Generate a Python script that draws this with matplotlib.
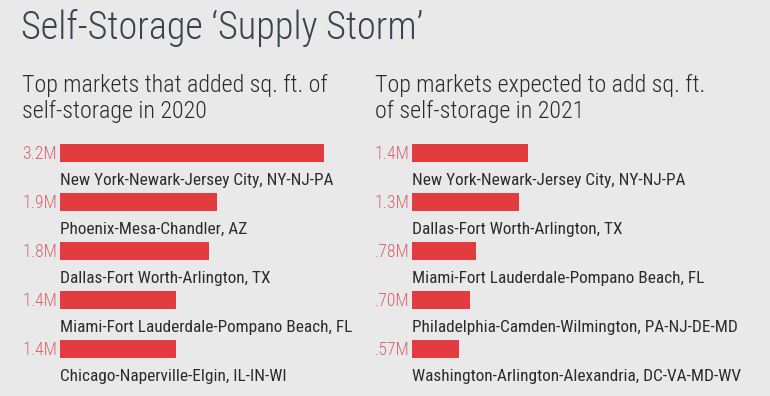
import matplotlib
matplotlib.use("Agg")
import matplotlib.pyplot as plt

# data
cities_2020 = ["New York-Newark-Jersey City, NY-NJ-PA",
               "Phoenix-Mesa-Chandler, AZ",
               "Dallas-Fort Worth-Arlington, TX",
               "Miami-Fort Lauderdale-Pompano Beach, FL",
               "Chicago-Naperville-Elgin, IL-IN-WI"]
values_2020 = [3.2, 1.9, 1.8, 1.4, 1.4]
labels_2020 = ["3.2M", "1.9M", "1.8M", "1.4M", "1.4M"]

cities_2021 = ["New York-Newark-Jersey City, NY-NJ-PA",
               "Dallas-Fort Worth-Arlington, TX",
               "Miami-Fort Lauderdale-Pompano Beach, FL",
               "Philadelphia-Camden-Wilmington, PA-NJ-DE-MD",
               "Washington-Arlington-Alexandria, DC-VA-MD-WV"]
values_2021 = [1.4, 1.3, 0.78, 0.70, 0.57]
labels_2021 = ["1.4M", "1.3M", ".78M", ".70M", ".57M"]

plt.rcParams["font.family"] = ["Roboto Condensed", "DejaVu Sans"]

BG = "#e9e9e9"
RED = "#e23c40"
VAL = "#d8646a"
TXT = "#2b2b2b"

W, H = 770, 396
fig = plt.figure(figsize=(W / 100, H / 100), dpi=100, facecolor=BG)

fig.text(21 / W, 1 - 39 / H, "Self-Storage \u2018Supply Storm\u2019", fontsize=27.5,
         color="#3b4250", va="baseline", ha="left", fontweight="light")

def panel(x0, tx, subtitle, cities, values, labels):
    for k, line in enumerate(subtitle):
        fig.text(tx / W, 1 - (92 + 26 * k) / H, line, fontsize=17.3, color=TXT,
                 va="baseline", ha="left", fontweight="light")
    # axes: pixel 130..380 vertically, 300 px wide
    ax = fig.add_axes([x0 / W, 1 - 380 / H, 300 / W, 250 / H])
    ax.set_facecolor("none")
    ax.set_xlim(0, 300 / 82.5)
    ax.set_ylim(4.633, -0.469)
    ax.axis("off")
    y = list(range(len(values)))
    ax.barh(y, values, height=0.37, color=RED)
    for i, (c, lab) in enumerate(zip(cities, labels)):
        ax.text(-0.035, i + 0.13, lab, ha="right", va="baseline", fontsize=12.8,
                color=VAL, clip_on=False, fontweight="light")
        ax.text(0, i + 0.653, c, ha="left", va="baseline", fontsize=12.4,
                color=TXT, clip_on=False)

panel(60, 22, ["Top markets that added sq. ft. of", "self-storage in 2020"],
      cities_2020, values_2020, labels_2020)
panel(412, 375, ["Top markets expected to add sq. ft.", "of self-storage in 2021"],
      cities_2021, values_2021, labels_2021)

fig.savefig("out.png", dpi=100, facecolor=BG)
